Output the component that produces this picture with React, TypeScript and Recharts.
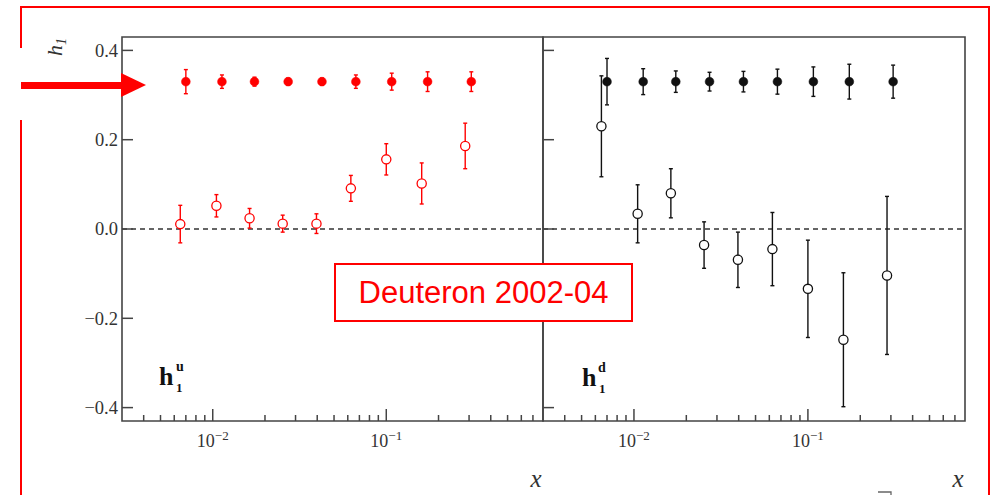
import { ScatterChart, Scatter, XAxis, YAxis, ErrorBar, ReferenceLine, ReferenceArea } from 'recharts'

// bin positions (open points sit at <x>, closed ones are drawn slightly to the right)
const X_OPEN = [0.0065, 0.0105, 0.0163, 0.0253, 0.0396, 0.0625, 0.1, 0.16, 0.285]
const X_FULL = [0.007, 0.0113, 0.0174, 0.0272, 0.0426, 0.0668, 0.1075, 0.173, 0.309]

// h1 u-quark
const U_FULL = [0.33, 0.33, 0.33, 0.33, 0.33, 0.33, 0.33, 0.33, 0.33]
const U_FULL_ERR = [0.027, 0.015, 0.01, 0.008, 0.008, 0.015, 0.019, 0.022, 0.022]
const U_OPEN = [0.011, 0.052, 0.024, 0.012, 0.012, 0.091, 0.156, 0.102, 0.186]
const U_OPEN_ERR = [0.042, 0.025, 0.022, 0.019, 0.022, 0.029, 0.035, 0.046, 0.051]

// h1 d-quark
const D_FULL = [0.33, 0.33, 0.33, 0.33, 0.33, 0.33, 0.33, 0.33, 0.33]
const D_FULL_ERR = [0.052, 0.029, 0.024, 0.021, 0.023, 0.028, 0.033, 0.039, 0.037]
const D_OPEN = [0.23, 0.034, 0.08, -0.036, -0.069, -0.045, -0.134, -0.248, -0.104]
const D_OPEN_ERR = [0.113, 0.065, 0.055, 0.052, 0.062, 0.082, 0.109, 0.15, 0.177]

const X_DOMAIN = [0.003, 0.8]
const X_TICKS = [
  0.004, 0.005, 0.006, 0.007, 0.008, 0.009, 0.01,
  0.02, 0.03, 0.04, 0.05, 0.06, 0.07, 0.08, 0.09, 0.1,
  0.2, 0.3, 0.4, 0.5, 0.6, 0.7,
]
const X_MAJOR = [0.01, 0.1]
const X_MAJOR_EXP = ['−2', '−1']

const Y_DOMAIN = [-0.43, 0.43]
const Y_TICKS = [-0.4, -0.2, 0, 0.2, 0.4]
const Y_TICK_LABELS = ['−0.4', '−0.2', '0.0', '0.2', '0.4']

const AXIS = '#444'
const RED = '#ff0000'
const SERIF = '"Liberation Serif", "Times New Roman", serif'

const pts = (xs: number[], ys: number[], errs: number[]) =>
  xs.map((x, i) => ({ x, y: ys[i], err: errs[i] }))

function XTick(p: any) {
  const v = p.payload.value
  const k = X_MAJOR.indexOf(v)
  return (
    <g>
      <line x1={p.x} x2={p.x} y1={p.y} y2={p.y - (k >= 0 ? 12 : 6)} stroke={AXIS} strokeWidth={1.5} />
      {k >= 0 && (
        <text x={p.x} y={p.y + 26} textAnchor="middle" fontFamily={SERIF} fontSize={18} fill="#333">
          10
          <tspan dy={-7} fontSize={13}>{X_MAJOR_EXP[k]}</tspan>
        </text>
      )}
    </g>
  )
}

function YTick(p: any) {
  const i = Y_TICKS.indexOf(p.payload.value)
  return (
    <g>
      <line x1={p.x} x2={p.x + 11} y1={p.y} y2={p.y} stroke={AXIS} strokeWidth={1.5} />
      {p.showLabel && (
        <text x={p.x - 4} y={p.y} dy="0.34em" textAnchor="end" fontFamily={SERIF} fontSize={18.5} fill="#333">
          {Y_TICK_LABELS[i]}
        </text>
      )}
    </g>
  )
}

const marker = (color: string, open: boolean) => (p: any) =>
  open ? (
    <circle cx={p.cx} cy={p.cy} r={4.6} fill="#fff" stroke={color} strokeWidth={1.3} />
  ) : (
    <circle cx={p.cx} cy={p.cy} r={4.4} fill={color} stroke={color} strokeWidth={0.5} />
  )

function Panel(props: {
  left: number
  width: number
  marginRight: number
  yAxisWidth: number
  showYLabels: boolean
  color: string
  full: number[]
  fullErr: number[]
  open: number[]
  openErr: number[]
}) {
  const { color } = props
  return (
    <div style={{ position: 'absolute', left: props.left, top: 0 }}>
      <ScatterChart
        width={props.width}
        height={495}
        margin={{ top: 37, right: props.marginRight, bottom: 0, left: 0 }}
      >
        <XAxis
          type="number"
          dataKey="x"
          scale="log"
          domain={X_DOMAIN}
          ticks={X_TICKS}
          interval={0}
          allowDataOverflow
          axisLine={false}
          tickLine={false}
          tickSize={0}
          tickMargin={0}
          height={74}
          tick={(p: any) => <XTick {...p} />}
        />
        <YAxis
          type="number"
          dataKey="y"
          domain={Y_DOMAIN}
          ticks={Y_TICKS}
          interval={0}
          allowDataOverflow
          axisLine={false}
          tickLine={false}
          tickSize={0}
          tickMargin={0}
          width={props.yAxisWidth}
          tick={(p: any) => <YTick {...p} showLabel={props.showYLabels} />}
        />
        <ReferenceLine y={0} stroke="#333" strokeWidth={1.4} strokeDasharray="5 4" />
        <ReferenceArea
          x1={X_DOMAIN[0]}
          x2={X_DOMAIN[1]}
          y1={Y_DOMAIN[0]}
          y2={Y_DOMAIN[1]}
          fill="none"
          fillOpacity={0}
          stroke={AXIS}
          strokeWidth={1.6}
          ifOverflow="visible"
        />
        <Scatter data={pts(X_OPEN, props.open, props.openErr)} isAnimationActive={false} shape={marker(color, true)}>
          <ErrorBar dataKey="err" direction="y" width={2} stroke={color} strokeWidth={1.4} isAnimationActive={false} />
        </Scatter>
        <Scatter data={pts(X_FULL, props.full, props.fullErr)} isAnimationActive={false} shape={marker(color, false)}>
          <ErrorBar dataKey="err" direction="y" width={2} stroke={color} strokeWidth={1.4} isAnimationActive={false} />
        </Scatter>
      </ScatterChart>
    </div>
  )
}

export default function App() {
  return (
    <div
      style={{
        position: 'absolute',
        left: 0,
        top: 0,
        width: 999,
        height: 495,
        background: '#fff',
        overflow: 'hidden',
        fontFamily: SERIF,
      }}
    >
      <Panel
        left={0}
        width={560}
        marginRight={17}
        yAxisWidth={122}
        showYLabels
        color={RED}
        full={U_FULL}
        fullErr={U_FULL_ERR}
        open={U_OPEN}
        openErr={U_OPEN_ERR}
      />
      <Panel
        left={500}
        width={499}
        marginRight={34}
        yAxisWidth={43}
        showYLabels={false}
        color="#111"
        full={D_FULL}
        fullErr={D_FULL_ERR}
        open={D_OPEN}
        openErr={D_OPEN_ERR}
      />

      <svg
        width={999}
        height={495}
        style={{ position: 'absolute', left: 0, top: 0, pointerEvents: 'none' }}
      >
        {/* red slide frame */}
        <line x1={21} x2={989} y1={7} y2={7} stroke={RED} strokeWidth={2} />
        <line x1={21} x2={21} y1={6} y2={48} stroke={RED} strokeWidth={2} />
        <line x1={21} x2={21} y1={120} y2={495} stroke={RED} strokeWidth={2} />
        <line x1={989} x2={989} y1={6} y2={495} stroke={RED} strokeWidth={2} />

        {/* arrow at h1 = 0.33 */}
        <rect x={21} y={82} width={102} height={7} fill={RED} />
        <polygon points="121,73 121,97 146,85" fill={RED} />

        {/* axis titles */}
        <text transform="translate(62,56) rotate(-90)" fontFamily={SERIF} fontStyle="italic" fontSize={22} fill="#333">
          h<tspan dy={4} fontSize={14}>1</tspan>
        </text>
        <text x={536} y={487} textAnchor="middle" fontFamily={SERIF} fontStyle="italic" fontSize={25} fill="#333">
          x
        </text>
        <text x={958} y={487} textAnchor="middle" fontFamily={SERIF} fontStyle="italic" fontSize={25} fill="#333">
          x
        </text>
        <path d="M878 492 H891 V495" fill="none" stroke="#666" strokeWidth={1.3} />

        {/* panel labels */}
        <g fontFamily={SERIF} fontWeight="bold" fill="#111">
          <text x={159} y={385} fontSize={26}>h</text>
          <text x={176} y={392} fontSize={13}>1</text>
          <text x={176} y={371} fontSize={14}>u</text>
          <text x={582} y={386} fontSize={26}>h</text>
          <text x={599} y={393} fontSize={13}>1</text>
          <text x={598} y={372} fontSize={14}>d</text>
        </g>
      </svg>

      <div
        style={{
          position: 'absolute',
          left: 334,
          top: 263,
          width: 299,
          height: 59,
          boxSizing: 'border-box',
          border: `2px solid ${RED}`,
          background: '#fff',
          color: RED,
          fontFamily: '"Liberation Sans", Arial, sans-serif',
          fontSize: 31,
          display: 'flex',
          alignItems: 'center',
          justifyContent: 'center',
        }}
      >
        Deuteron 2002-04
      </div>
    </div>
  )
}
